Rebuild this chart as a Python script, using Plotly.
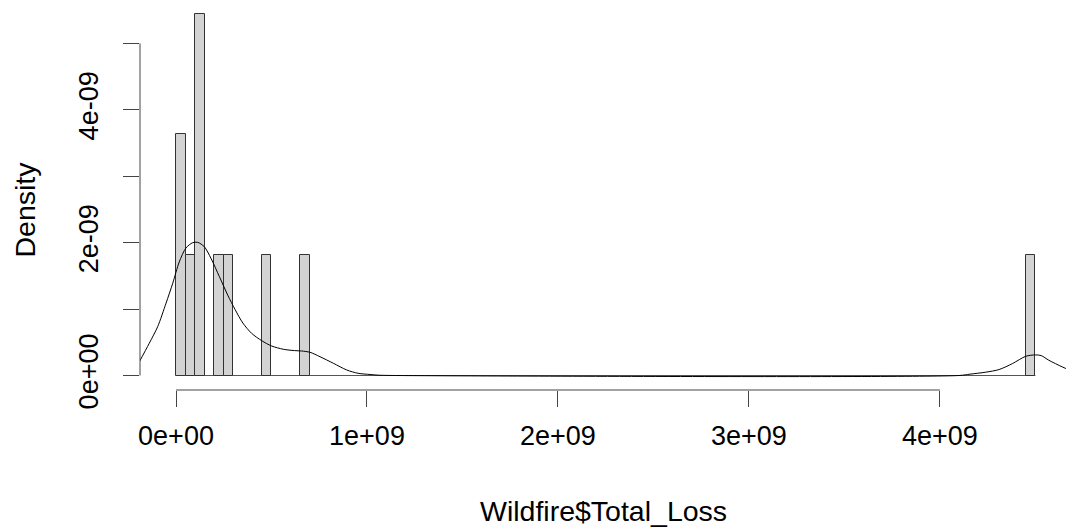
import plotly.graph_objects as go

# Histogram (density scale), bin width 5e7
bin_width = 5e7
bin_starts = [0, 5e7, 1e8, 2e8, 2.5e8, 4.5e8, 6.5e8, 4.45e9]
bin_density = [3.64e-9, 1.82e-9, 5.45e-9, 1.82e-9, 1.82e-9, 1.82e-9, 1.82e-9, 1.82e-9]
hist_range = [0, 4.5e9]

# Kernel density curve
dens_x = [-1.95e8, -1.40e8, -0.96e8, -0.52e8, -0.17e8, 0.17e8, 0.52e8, 0.87e8, 1.14e8,
          1.48e8, 1.83e8, 2.27e8, 2.71e8, 3.10e8, 3.50e8, 3.96e8, 4.49e8, 5.01e8, 5.62e8,
          6.20e8, 6.58e8, 7.02e8, 7.54e8, 8.24e8, 8.94e8, 9.54e8, 10.16e8, 10.6e8, 11.5e8,
          41.0e8, 41.57e8, 42.4e8, 43.1e8, 43.8e8, 44.5e8, 45.0e8, 45.3e8, 45.7e8, 46.4e8, 46.8e8]
dens_y = [0.19e-9, 0.485e-9, 0.735e-9, 1.09e-9, 1.39e-9, 1.71e-9, 1.92e-9, 2.00e-9, 2.005e-9,
          1.94e-9, 1.765e-9, 1.49e-9, 1.21e-9, 0.99e-9, 0.79e-9, 0.635e-9, 0.524e-9, 0.444e-9, 0.395e-9,
          0.375e-9, 0.369e-9, 0.349e-9, 0.283e-9, 0.184e-9, 0.083e-9, 0.033e-9, 0.015e-9, 0.005e-9, 0.0,
          0.0, 0.02e-9, 0.05e-9, 0.09e-9, 0.18e-9, 0.29e-9, 0.31e-9, 0.30e-9, 0.23e-9, 0.13e-9, 0.08e-9]

x_ticks = [0, 1e9, 2e9, 3e9, 4e9]
x_tick_labels = ["0e+00", "1e+09", "2e+09", "3e+09", "4e+09"]
y_ticks = [0, 1e-9, 2e-9, 3e-9, 4e-9, 5e-9]
y_tick_labels = ["0e+00", "", "2e-09", "", "4e-09", ""]

FONT = "Liberation Sans, Arial, sans-serif"
FS_TICK = 27
FS_TITLE = 28.5
AX = "#444444"

fig = go.Figure()
fig.add_trace(go.Bar(
    x=[s + bin_width / 2 for s in bin_starts], y=bin_density, width=bin_width,
    marker=dict(color="#D3D3D3", line=dict(color="#333333", width=1)),
    showlegend=False, hoverinfo="skip"))
fig.add_trace(go.Scatter(x=dens_x, y=dens_y, mode="lines",
                         line=dict(color="black", width=1, shape="spline", smoothing=0.8),
                         showlegend=False, hoverinfo="skip"))

shapes = [
    # zero-height histogram baseline
    dict(type="line", xref="x", yref="y", x0=hist_range[0], x1=hist_range[1], y0=0, y1=0,
         line=dict(color="#555555", width=1), layer="below"),
    # R-style axis lines spanning first to last tick
    dict(type="line", xref="x", yref="paper", x0=x_ticks[0], x1=x_ticks[-1], y0=0, y1=0,
         line=dict(color=AX, width=1)),
    dict(type="line", xref="paper", yref="y", x0=0, x1=0, y0=y_ticks[0], y1=y_ticks[-1],
         line=dict(color=AX, width=1)),
]

fig.update_layout(
    width=1066, height=529,
    margin=dict(l=140, r=0, t=0, b=139),
    paper_bgcolor="white", plot_bgcolor="white",
    font=dict(family=FONT, size=FS_TICK, color="black"),
    shapes=shapes,
    bargap=0,
    xaxis=dict(range=[-1.885e8, 4.66e9], showgrid=False, zeroline=False, showline=False,
               tickvals=x_ticks, ticktext=x_tick_labels, ticks="outside", ticklen=16,
               tickcolor=AX, tickwidth=1, ticklabelstandoff=6),
    yaxis=dict(range=[-0.2184e-9, 5.655e-9], showgrid=False, zeroline=False, showline=False,
               tickvals=y_ticks, ticktext=y_tick_labels, ticks="outside", ticklen=16,
               tickcolor=AX, tickwidth=1, tickangle=-90, ticklabelstandoff=14),
    annotations=[
        dict(text="Wildfire$Total_Loss", xref="paper", yref="paper", x=0.5, y=0,
             yanchor="middle", yshift=-121, showarrow=False, font=dict(size=FS_TITLE)),
        dict(text="Density", xref="paper", yref="paper", x=0, y=(375.5 - 195) / 390,
             xanchor="center", yanchor="middle", xshift=-116, textangle=-90,
             showarrow=False, font=dict(size=FS_TITLE)),
    ],
)

fig.write_html("out.html")
